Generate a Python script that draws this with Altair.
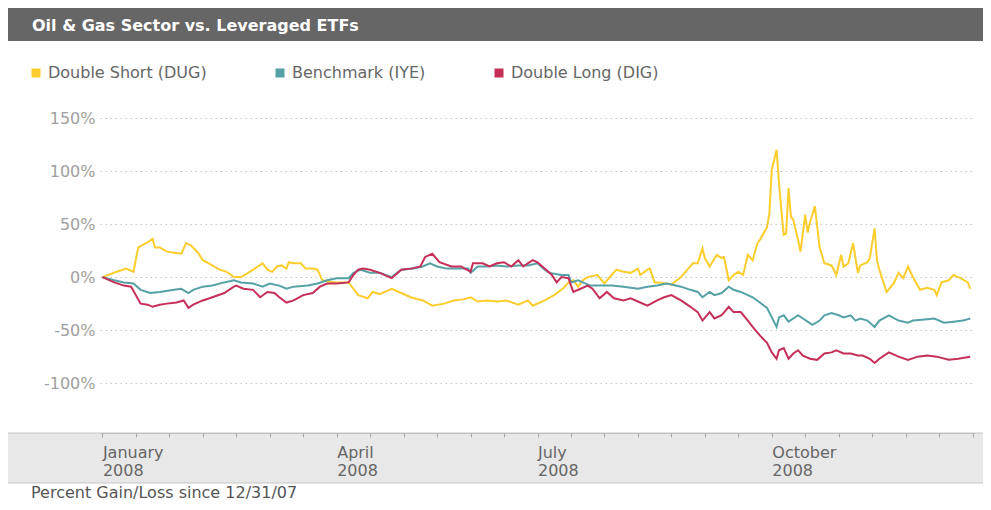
import altair as alt
import pandas as pd

TITLE = "Oil & Gas Sector vs. Leveraged ETFs"
FOOTER = "Percent Gain/Loss since 12/31/07"
SERIES = ["Double Short (DUG)", "Benchmark (IYE)", "Double Long (DIG)"]
COLORS = ["#FCCD2C", "#55A1A5", "#C62F58"]

# calendar days after 2008-01-02, percent gain/loss
dug_days = [0, 6, 10, 13, 15, 19, 21, 22, 24, 27, 30, 33, 35, 37, 40, 42, 46, 49, 52, 55, 58, 61, 63, 65, 67,
            69, 71, 73, 75, 77, 78, 80, 83, 85, 88, 90, 92, 97, 103, 107, 111, 113, 116, 121, 125, 129, 134,
            138, 143, 147, 151, 154, 157, 161, 165, 169, 174, 178, 180, 185, 189, 193, 195, 197, 199, 201, 203,
            207, 210, 213, 215, 218, 221, 224, 225, 228, 229, 231, 233, 238, 242, 247, 249, 251, 252, 254, 257,
            259, 260, 262, 264, 266, 268, 270, 272, 274, 275, 278, 279, 280, 282, 283, 284, 285, 286, 287, 288,
            289, 291, 292, 294, 295, 296, 297, 298, 300, 302, 305, 307, 309, 310, 312, 314, 316, 317, 320, 321,
            323, 324, 325, 328, 331, 333, 335, 337, 339, 342, 345, 348, 349, 351, 354, 356, 359, 362, 363]
dug_vals = [0, 5, 8, 5, 28, 33, 36, 28, 28, 24, 23, 22, 32, 30, 23, 16, 11, 7, 5, 0, 0, 4, 7, 10, 13,
            7, 5, 10, 11, 8, 14, 13, 13, 8, 8, 7, -3, -5, -5, -17, -20, -14, -16, -11, -15, -19, -22,
            -27, -25, -22, -21, -19, -23, -22, -23, -22, -26, -22, -27, -22, -17, -10, -5, -3, -9, -3, 0,
            2, -6, 2, 7, 5, 4, 8, 2, 7, 8, -5, -5, -7, 0, 13, 13, 27, 18, 10, 21,
            18, 19, -3, 2, 5, 2, 21, 16, 32, 35, 47, 60, 101, 120, 89, 63, 40, 41, 84, 57,
            54, 35, 24, 59, 42, 52, 59, 67, 28, 13, 11, 2, 21, 10, 13, 32, 4, 11, 14, 18,
            46, 16, 7, -14, -6, 4, -1, 10, 0, -12, -10, -12, -17, -5, -3, 2, -1, -5, -11]

iye_days = [0, 5, 9, 13, 16, 20, 24, 30, 33, 36, 38, 42, 46, 51, 55, 58, 63, 67, 70, 74, 77, 80, 86, 90, 94,
            98, 103, 105, 108, 112, 116, 121, 125, 130, 134, 137, 140, 144, 149, 153, 154, 157, 161, 165, 169,
            174, 178, 182, 185, 187, 192, 195, 196, 199, 201, 204, 208, 213, 218, 224, 228, 232, 236, 238, 242,
            246, 249, 251, 254, 256, 259, 262, 264, 267, 270, 272, 275, 278, 280, 282, 283, 285, 287, 289, 291,
            293, 295, 297, 300, 302, 305, 308, 310, 313, 315, 317, 320, 323, 325, 329, 333, 337, 339, 344, 348,
            352, 356, 360, 363]
iye_vals = [0, -3, -5, -6, -12, -15, -14, -12, -11, -15, -12, -9, -8, -5, -3, -5, -6, -9, -6, -8, -11, -9, -8, -6, -3,
            -1, -1, 4, 7, 4, 4, 0, 7, 8, 10, 13, 10, 8, 8, 8, 4, 10, 10, 11, 10,
            11, 11, 13, 7, 4, 2, 2, -5, -3, -5, -8, -8, -8, -9, -11, -9, -8, -6, -7, -9,
            -12, -14, -19, -14, -17, -15, -9, -12, -14, -17, -19, -24, -29, -38, -47, -38, -36, -42, -39, -36,
            -39, -42, -45, -41, -36, -34, -36, -38, -36, -41, -39, -41, -47, -41, -36, -41, -43, -41, -40, -39,
            -43, -42, -41, -39]

dig_days = [0, 5, 9, 12, 16, 19, 21, 24, 27, 31, 34, 36, 38, 42, 46, 51, 55, 56, 59, 63, 66, 69, 72, 74, 77,
            80, 84, 88, 91, 94, 98, 103, 105, 107, 109, 112, 116, 121, 125, 129, 133, 135, 138, 141, 146, 150,
            154, 155, 159, 162, 165, 168, 171, 174, 176, 180, 182, 185, 188, 190, 192, 195, 196, 197, 200, 203,
            205, 208, 211, 214, 218, 221, 224, 228, 232, 235, 238, 242, 246, 249, 251, 254, 256, 259, 262, 264,
            267, 270, 272, 275, 278, 280, 282, 283, 285, 287, 289, 291, 293, 296, 299, 302, 305, 307, 310, 313,
            316, 318, 321, 323, 325, 329, 333, 337, 341, 345, 349, 354, 358, 363]
dig_vals = [0, -5, -8, -9, -25, -26, -28, -26, -25, -24, -22, -29, -26, -22, -19, -15, -9, -8, -11, -12, -19, -14, -15, -19, -24,
            -22, -17, -15, -9, -6, -6, -5, 2, 7, 8, 7, 4, -1, 7, 8, 10, 19, 22, 14, 10, 10,
            5, 13, 13, 10, 13, 14, 10, 16, 10, 16, 14, 8, 2, -5, 0, -1, -8, -14, -11, -8,
            -11, -20, -14, -20, -22, -20, -23, -27, -22, -19, -17, -22, -28, -33, -41, -33, -39, -36, -28, -33,
            -33, -41, -47, -55, -62, -71, -77, -69, -67, -77, -72, -69, -74, -77, -78, -72, -71, -69, -72, -72,
            -74, -74, -77, -81, -77, -71, -75, -78, -75, -74, -75, -78, -77, -75]

Y_TICKS = [-100, -50, 0, 50, 100, 150]

start = pd.Timestamp("2008-01-02")


def frame(name, days, vals):
    return pd.DataFrame({
        "date": (start + pd.to_timedelta(days, unit="D")).strftime("%Y-%m-%d"),
        "value": vals,
        "series": name,
    })


data = pd.concat([
    frame(SERIES[0], dug_days, dug_vals),
    frame(SERIES[1], iye_days, iye_vals),
    frame(SERIES[2], dig_days, dig_vals),
], ignore_index=True)

tick_dates = pd.date_range("2008-01-02", "2008-12-31", freq="14D")
tick_values = [alt.DateTime(year=t.year, month=t.month, date=t.day, utc=True) for t in tick_dates]

FONT = "DejaVu Sans"
W, H = 875, 333
PAD_L, PAD_T, PAD_R, PAD_B = 92, 92, 8, 69

x_enc = alt.X(
    "date:T",
    scale=alt.Scale(type="utc", domain=[alt.DateTime(year=2008, month=1, date=1, utc=True),
                                        alt.DateTime(year=2009, month=1, date=1, utc=True)]),
    axis=alt.Axis(
        title=None, values=tick_values, grid=False, zindex=1,
        labelExpr="(utcdate(datum.value) <= 14 && utcmonth(datum.value) % 3 == 0) ? "
                  "[utcFormat(datum.value, '%B'), utcFormat(datum.value, '%Y')] : ''",
        labelAlign="left", labelBaseline="top", labelOverlap=False, labelPadding=7,
        labelLineHeight=18, labelFont=FONT, labelFontSize=16, labelColor="#666666",
        domainColor="#bdbdbd", tickColor="#a0a0a0", tickSize=4,
    ),
)
y_enc = alt.Y(
    "value:Q",
    scale=alt.Scale(domain=[-147, 167], nice=False, zero=False),
    axis=alt.Axis(
        title=None, values=Y_TICKS, labelExpr="datum.value + '%'", domain=False, ticks=False,
        labelPadding=5, labelFont=FONT, labelFontSize=16, labelColor="#a0a0a0",
        grid=True, gridColor="#c4c4c4", gridDash=[1.5, 3.5], gridWidth=1,
    ),
)

lines = alt.Chart(data).mark_line(strokeWidth=2, interpolate="linear").encode(
    x=x_enc,
    y=y_enc,
    color=alt.Color(
        "series:N",
        scale=alt.Scale(domain=SERIES, range=COLORS),
        sort=SERIES,
        legend=alt.Legend(
            title=None, orient="none", legendX=-72, legendY=-35, direction="horizontal",
            symbolType="square", symbolSize=16, symbolStrokeWidth=5, labelOffset=4,
            labelFont=FONT, labelFontSize=16, labelColor="#666666", columnPadding=61, padding=0,
        ),
    ),
    order=alt.Order("date:T"),
)

one = pd.DataFrame({"k": [0]})
band = alt.Chart(one).mark_rect(fill="#e8e8e8", stroke="#c6c6c6", strokeWidth=1).encode(
    x=alt.value(-PAD_L - 4), x2=alt.value(W + PAD_R + 4), y=alt.value(H), y2=alt.value(H + 50)
)
title_bar = alt.Chart(one).mark_rect(fill="#666666").encode(
    x=alt.value(-PAD_L - 4), x2=alt.value(W + PAD_R + 4), y=alt.value(-92), y2=alt.value(-59)
)
title_text = alt.Chart(pd.DataFrame({"t": [TITLE]})).mark_text(
    align="left", baseline="middle", font=FONT, fontSize=16, fontWeight="bold", color="#ffffff"
).encode(x=alt.value(-68), y=alt.value(-74), text="t:N")
footer_text = alt.Chart(pd.DataFrame({"t": [FOOTER]})).mark_text(
    align="left", baseline="middle", font=FONT, fontSize=16, color="#555555"
).encode(x=alt.value(-69), y=alt.value(393), text="t:N")

chart = alt.layer(band, title_bar, title_text, footer_text, lines).properties(
    width=W, height=H,
    autosize=alt.AutoSizeParams(type="none"),
    padding={"left": PAD_L, "top": PAD_T, "right": PAD_R, "bottom": PAD_B},
    background="#ffffff",
).configure_view(stroke=None)

chart.save("out.html", embed_options={"renderer": "svg", "actions": False})
